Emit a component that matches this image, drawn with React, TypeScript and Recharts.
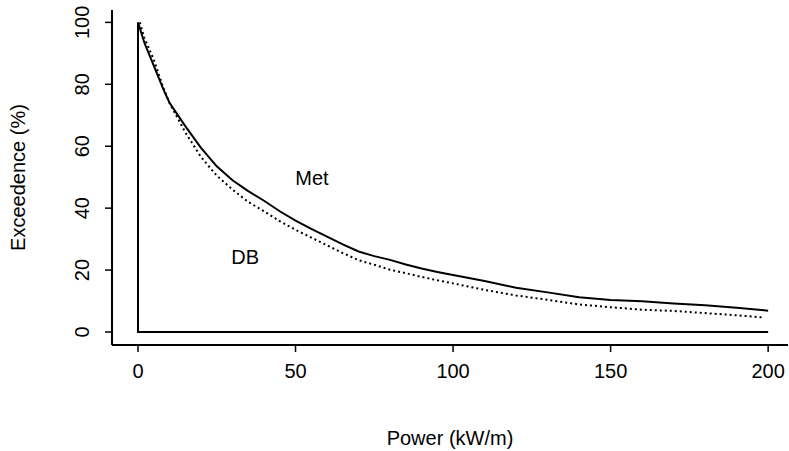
import { LineChart, Line, XAxis, YAxis, ReferenceDot } from 'recharts';

// Exceedence curves: power (kW/m) vs exceedence (%)
const metPower = [0, 2, 5, 8, 10, 15, 20, 25, 30, 35, 40, 45, 50, 55, 60, 65, 70, 75, 80, 85, 90, 95, 100, 110, 120, 130, 140, 150, 160, 170, 180, 190, 200];
const metExceed = [100, 93.5, 86, 78.5, 74, 66.5, 59.5, 53.5, 49, 45.5, 42.4, 39, 36, 33.3, 30.8, 28.3, 26, 24.5, 23.3, 21.8, 20.5, 19.4, 18.4, 16.5, 14.3, 12.8, 11.2, 10.3, 9.9, 9.2, 8.6, 7.8, 6.9];

const dbPower = [0.6, 2, 5, 8, 10, 15, 20, 25, 30, 35, 40, 45, 50, 55, 60, 65, 70, 75, 80, 85, 90, 95, 100, 110, 120, 130, 140, 150, 160, 170, 180, 190, 198.5];
const dbExceed = [100, 95, 88, 79, 74, 64.5, 56.5, 50.5, 46, 42, 39, 35.8, 33, 30.5, 28, 25.5, 23.2, 21.7, 20.1, 19, 17.8, 16.7, 15.7, 13.6, 11.8, 10.4, 8.9, 8, 7.2, 6.8, 6.1, 5.4, 4.7];

// the closing edge of the curve polygon (along y = 0 and x = 0)
const edgePower = [200, 0, 0];
const edgeExceed = [0, 0, 100];

const xTicks = [0, 50, 100, 150, 200];
const yTicks = [0, 20, 40, 60, 80, 100];

const toPoints = (xs: number[], ys: number[]) => xs.map((x, i) => ({ x, y: ys[i] }));

const metData = toPoints(metPower, metExceed);
const dbData = toPoints(dbPower, dbExceed);
const edgeData = toPoints(edgePower, edgeExceed);

const FONT = '"Liberation Sans", Arial, Helvetica, sans-serif';
const FS = 20;

function YTick({ x, y, payload }: any) {
  const cx = x - 21;
  return (
    <text
      x={cx}
      y={y}
      dy={7}
      transform={`rotate(-90, ${cx}, ${y})`}
      textAnchor="middle"
      fontSize={FS}
      fontFamily={FONT}
      fill="#000"
    >
      {payload.value}
    </text>
  );
}

function XTick({ x, y, payload }: any) {
  return (
    <text x={x} y={y + 24} textAnchor="middle" fontSize={FS} fontFamily={FONT} fill="#000">
      {payload.value}
    </text>
  );
}

export default function App() {
  return (
    <div style={{ position: 'absolute', left: 0, top: 0, background: '#fff' }}>
      <LineChart width={789} height={451} margin={{ top: 10, right: 1, bottom: 0, left: 0 }}>
        <XAxis
          type="number"
          dataKey="x"
          domain={[-8.25, 206.3]}
          ticks={xTicks}
          allowDataOverflow
          height={106}
          stroke="#000"
          axisLine={{ strokeWidth: 2 }}
          tickLine={{ strokeWidth: 1.5 }}
          tickSize={7}
          tick={<XTick />}
          label={{ value: 'Power (kW/m)', position: 'insideBottom', offset: 6, fontSize: FS, fontFamily: FONT, fill: '#000' }}
        />
        <XAxis xAxisId="top" orientation="top" type="number" domain={[-8.25, 206.3]} height={0} tick={false} tickLine={false} stroke="#000" axisLine={{ strokeWidth: 2 }} />
        <YAxis
          type="number"
          domain={[-4.2, 104]}
          ticks={yTicks}
          allowDataOverflow
          width={112}
          stroke="#000"
          axisLine={{ strokeWidth: 2 }}
          tickLine={{ strokeWidth: 1.5 }}
          tickSize={7}
          tick={<YTick />}
          label={{ value: 'Exceedence (%)', angle: -90, position: 'insideLeft', offset: 18, fontSize: FS, fontFamily: FONT, fill: '#000', style: { textAnchor: 'middle' } }}
        />
        <YAxis yAxisId="right" orientation="right" domain={[-4.2, 104]} width={0} tick={false} tickLine={false} stroke="#000" axisLine={{ strokeWidth: 2 }} />
        <Line data={edgeData} dataKey="y" stroke="#000" strokeWidth={2} dot={false} isAnimationActive={false} />
        <Line data={dbData} dataKey="y" stroke="#000" strokeWidth={2} strokeDasharray="2 3" dot={false} isAnimationActive={false} />
        <Line data={metData} dataKey="y" stroke="#000" strokeWidth={2} dot={false} isAnimationActive={false} />
        <ReferenceDot x={55.2} y={49.8} r={0} label={{ value: 'Met', position: 'center', fontSize: FS, fontFamily: FONT, fill: '#000' }} />
        <ReferenceDot x={34} y={24.2} r={0} label={{ value: 'DB', position: 'center', fontSize: FS, fontFamily: FONT, fill: '#000' }} />
      </LineChart>
    </div>
  );
}
